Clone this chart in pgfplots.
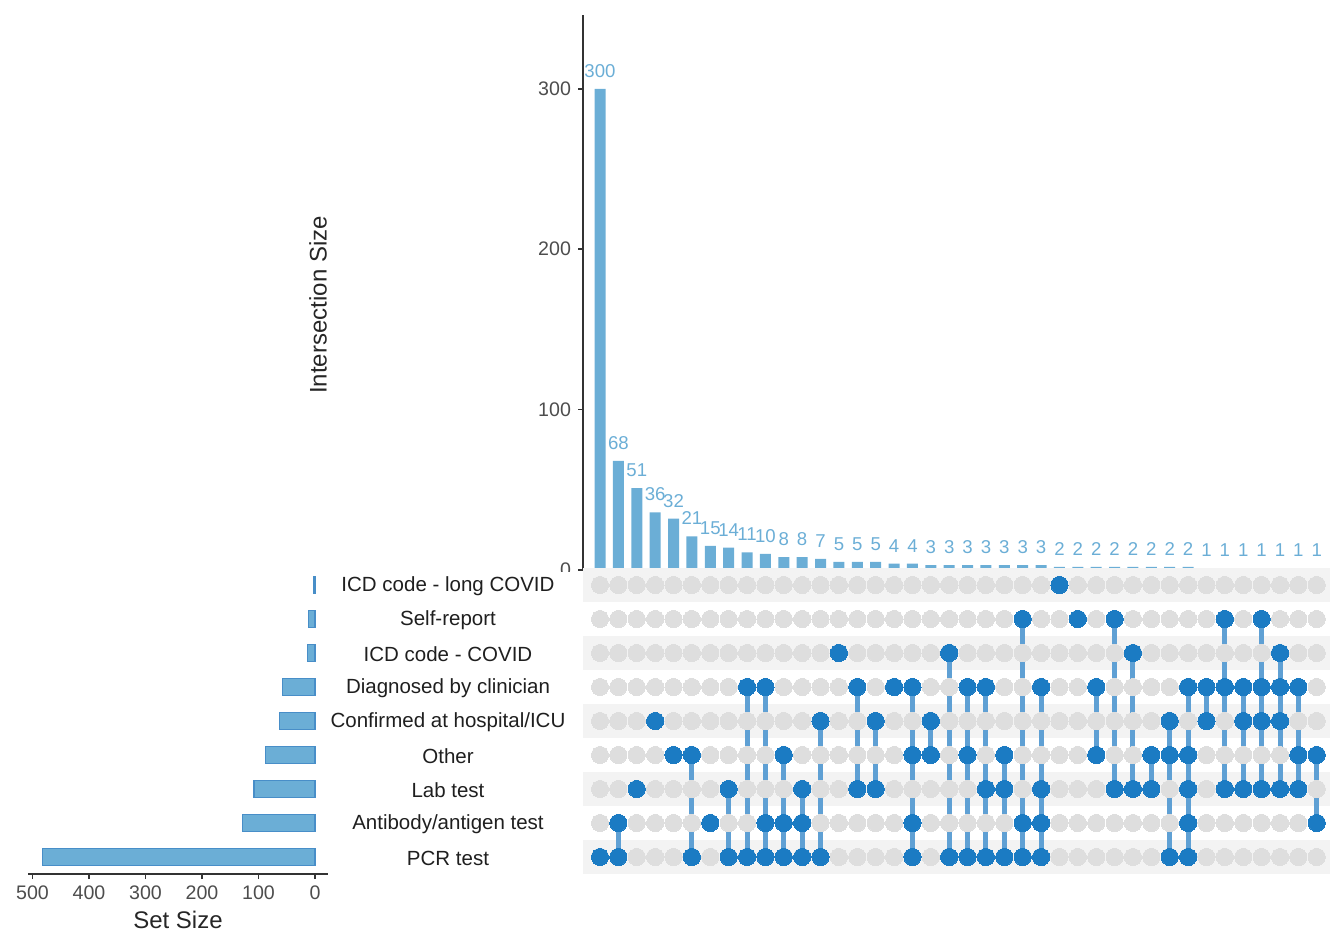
\documentclass[border=0pt]{standalone}
\usepackage{pgfplots}
\pgfplotsset{compat=1.18}
\usepackage{pgfplotstable}
\usepackage{fontspec}
\setmainfont{Liberation Sans}

\definecolor{barblue}{RGB}{107,174,214}
\definecolor{barborder}{RGB}{72,142,200}
\definecolor{dotblue}{RGB}{27,123,195}
\definecolor{lineblue}{RGB}{95,160,212}
\definecolor{dotgray}{RGB}{222,222,222}
\definecolor{stripe}{RGB}{243,243,243}
\definecolor{axisgray}{RGB}{51,51,51}
\definecolor{ticklab}{RGB}{77,77,77}

\pgfplotsset{/pgf/number format/assume math mode=true,
  inter/.style={lineblue, line width=2.5pt, mark=*, mark size=4.3pt,
    mark options={solid, line width=0pt, draw=dotblue, fill=dotblue}}}

\pgfplotstableread{
col size
1 300
2 68
3 51
4 36
5 32
6 21
7 15
8 14
9 11
10 10
11 8
12 8
13 7
14 5
15 5
16 5
17 4
18 4
19 3
20 3
21 3
22 3
23 3
24 3
25 3
26 2
27 2
28 2
29 2
30 2
31 2
32 2
33 2
34 1
35 1
36 1
37 1
38 1
39 1
40 1
}\intersections

\pgfplotstableread{
row size
8 3
7 11
6 13
5 57
4 63
3 87
2 108
1 129
0 483
}\setsizes

\begin{document}
\begin{tikzpicture}
\useasboundingbox (0,0) rectangle (665pt,466.5pt);

% ---- intersection size bars ----
\begin{axis}[at={(291.5pt,181.5pt)}, anchor=south west, scale only axis,
  width=373.5pt, height=277.5pt,
  xmin=0.075, xmax=40.72, ymin=0, ymax=346,
  axis x line=none, axis y line*=left,
  axis line style={axisgray, line width=0.75pt},
  ytick={0,100,200,300}, ytick align=outside, major tick length=2.5pt,
  tick style={axisgray, line width=0.75pt},
  tick label style={font=\fontsize{9.8}{12}\selectfont, text=ticklab},
  ylabel={Intersection Size},
  ylabel style={at={(axis description cs:-0.3548,0.4775)}, anchor=center,
    font=\fontsize{12}{14}\selectfont, text=black!85},
  ybar, bar width=5.5pt,
  nodes near coords,
  every node near coord/.append style={font=\fontsize{9.3}{11}\selectfont,
    text=barblue, inner sep=0pt, yshift=5.5pt},
  clip=false]
\addplot[fill=barblue, draw=none] table[x=col, y=size] {\intersections};
\end{axis}

\fill[white] (160pt,150pt) rectangle (291pt,180.5pt);

% ---- matrix ----
\begin{axis}[at={(291.5pt,29.5pt)}, anchor=south west, scale only axis,
  width=373.5pt, height=153pt,
  xmin=0.075, xmax=40.72, ymin=-0.5, ymax=8.5,
  axis line style={draw=none}, major tick length=0pt,
  xtick=\empty, ytick={0,...,8},
  yticklabels={PCR test, Antibody/antigen test, Lab test, Other,
    Confirmed at hospital/ICU, Diagnosed by clinician, ICD code - COVID,
    Self-report, ICD code - long COVID},
  yticklabel style={anchor=center, xshift=-67.5pt, yshift=-0.5pt,
    font=\fontsize{10.25}{12}\selectfont, text=black!88},
  clip=false]
\fill[stripe] (axis cs:0.075,-0.5) rectangle (axis cs:40.72,0.5);
\fill[stripe] (axis cs:0.075,1.5) rectangle (axis cs:40.72,2.5);
\fill[stripe] (axis cs:0.075,3.5) rectangle (axis cs:40.72,4.5);
\fill[stripe] (axis cs:0.075,5.5) rectangle (axis cs:40.72,6.5);
\fill[stripe] (axis cs:0.075,7.5) rectangle (axis cs:40.72,8.5);
\pgfplotsinvokeforeach{0,...,8}{
  \addplot[only marks, color=dotgray, mark=*, mark size=4.3pt,
    mark options={solid, line width=0pt, draw=dotgray, fill=dotgray}]
    table[x=col, y expr=#1] {\intersections};
}
\addplot[inter] coordinates {(1,0)};
\addplot[inter] coordinates {(2,0)(2,1)};
\addplot[inter] coordinates {(3,2)};
\addplot[inter] coordinates {(4,4)};
\addplot[inter] coordinates {(5,3)};
\addplot[inter] coordinates {(6,0)(6,3)};
\addplot[inter] coordinates {(7,1)};
\addplot[inter] coordinates {(8,0)(8,2)};
\addplot[inter] coordinates {(9,0)(9,5)};
\addplot[inter] coordinates {(10,0)(10,1)(10,5)};
\addplot[inter] coordinates {(11,0)(11,1)(11,3)};
\addplot[inter] coordinates {(12,0)(12,1)(12,2)};
\addplot[inter] coordinates {(13,0)(13,4)};
\addplot[inter] coordinates {(14,6)};
\addplot[inter] coordinates {(15,2)(15,5)};
\addplot[inter] coordinates {(16,2)(16,4)};
\addplot[inter] coordinates {(17,5)};
\addplot[inter] coordinates {(18,0)(18,1)(18,3)(18,5)};
\addplot[inter] coordinates {(19,3)(19,4)};
\addplot[inter] coordinates {(20,0)(20,6)};
\addplot[inter] coordinates {(21,0)(21,3)(21,5)};
\addplot[inter] coordinates {(22,0)(22,2)(22,5)};
\addplot[inter] coordinates {(23,0)(23,2)(23,3)};
\addplot[inter] coordinates {(24,0)(24,1)(24,7)};
\addplot[inter] coordinates {(25,0)(25,1)(25,2)(25,5)};
\addplot[inter] coordinates {(26,8)};
\addplot[inter] coordinates {(27,7)};
\addplot[inter] coordinates {(28,3)(28,5)};
\addplot[inter] coordinates {(29,2)(29,7)};
\addplot[inter] coordinates {(30,2)(30,6)};
\addplot[inter] coordinates {(31,2)(31,3)};
\addplot[inter] coordinates {(32,0)(32,3)(32,4)};
\addplot[inter] coordinates {(33,0)(33,1)(33,2)(33,3)(33,5)};
\addplot[inter] coordinates {(34,4)(34,5)};
\addplot[inter] coordinates {(35,2)(35,5)(35,7)};
\addplot[inter] coordinates {(36,2)(36,4)(36,5)};
\addplot[inter] coordinates {(37,2)(37,4)(37,5)(37,7)};
\addplot[inter] coordinates {(38,2)(38,4)(38,5)(38,6)};
\addplot[inter] coordinates {(39,2)(39,3)(39,5)};
\addplot[inter] coordinates {(40,1)(40,3)};
\end{axis}

% ---- set size bars ----
\begin{axis}[at={(14pt,29.5pt)}, anchor=south west, scale only axis,
  width=150pt, height=153pt,
  x dir=reverse, xmin=-23, xmax=508, ymin=-0.5, ymax=8.5,
  axis x line*=bottom, axis y line=none,
  axis line style={axisgray, line width=0.75pt},
  xtick={0,100,200,300,400,500}, xtick align=outside, major tick length=2.5pt,
  tick style={axisgray, line width=0.75pt},
  tick label style={font=\fontsize{9.8}{12}\selectfont, text=ticklab},
  xlabel={Set Size},
  xlabel style={at={(axis description cs:0.5,-0.15)}, anchor=center,
    font=\fontsize{12}{14}\selectfont, text=black!85},
  xbar, bar width=8.3pt, clip=false]
\addplot[fill=barblue, draw=barborder, line width=0.6pt]
  table[x=size, y=row] {\setsizes};
\end{axis}
\end{tikzpicture}
\end{document}
